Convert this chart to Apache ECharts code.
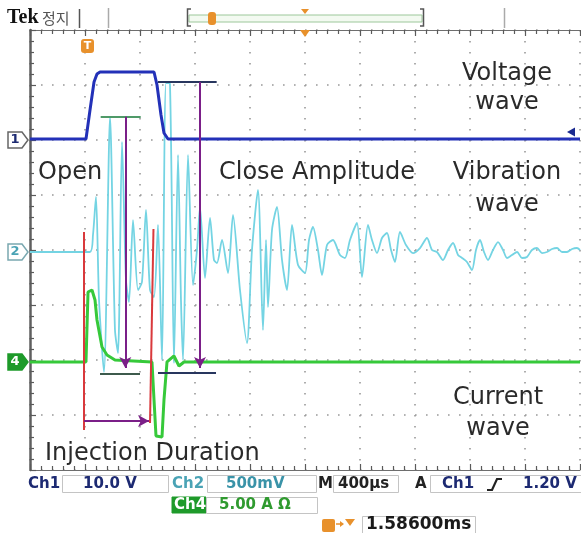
<!DOCTYPE html>
<html>
<head>
<meta charset="utf-8">
<script src="https://cdn.jsdelivr.net/npm/echarts@6/dist/echarts.min.js"></script>
<style>
  html, body { margin: 0; padding: 0; background: #fff; }
  #main { width: 581px; height: 533px; }
</style>
</head>
<body>
<div id="main"></div>
<script>
// scope screen: x in divisions (400us/div), y in divisions from screen centre
// Ch1 voltage wave
const ch1Time  = [0, 1.018, 1.091, 1.164, 1.218, 1.273, 2.255, 2.309, 2.382, 2.436, 2.509, 10];
const ch1Level = [2.018, 2.018, 2.545, 3.055, 3.2, 3.236, 3.236, 3.0, 2.455, 2.127, 2.018, 2.018];

// Ch2 vibration wave
const ch2Time = [0, 1.09, 1.145, 1.2, 1.255, 1.345, 1.455, 1.545, 1.6, 1.673, 1.745, 1.8, 1.873, 1.964,
  2.036, 2.109, 2.182, 2.255, 2.327, 2.4, 2.473, 2.545, 2.618, 2.691, 2.745, 2.782, 2.873, 2.964,
  3.036, 3.091, 3.182, 3.273, 3.345, 3.4, 3.491, 3.6, 3.691, 3.818, 3.945, 4.036, 4.145, 4.236,
  4.291, 4.327, 4.4, 4.491, 4.582, 4.673, 4.764, 4.873, 5.0, 5.073, 5.145, 5.236, 5.309, 5.4,
  5.509, 5.636, 5.727, 5.818, 5.945, 6.036, 6.145, 6.218, 6.309, 6.4, 6.491, 6.564, 6.636, 6.727,
  6.836, 6.964, 7.091, 7.218, 7.309, 7.4, 7.509, 7.6, 7.691, 7.782, 7.855, 7.945, 8.036, 8.109,
  8.182, 8.255, 8.327, 8.418, 8.509, 8.6, 8.673, 8.764, 8.855, 8.945, 9.036, 9.127, 9.218, 9.309,
  9.4, 9.491, 9.582, 9.673, 9.764, 9.855, 9.945, 10];
const ch2Level = [-0.036, -0.036, 0.273, 0.964, -0.909, -2.218, 2.418, -1.455, -1.873, 1.964, -0.545, -0.945, 0.545, -0.727,
  -0.582, 0.727, -0.727, -0.855, 0.455, -2.0, 3.036, 3.018, -2.055, 1.727, -0.909, -2.0, 1.727, -0.636,
  0, 0.782, -0.509, 0.582, -0.182, -0.236, 0.182, -0.418, 0.636, -0.727, -1.691, 0, 1.091, -1.455,
  0.182, -1.036, 0.364, 0.782, -0.182, -0.727, 0.455, -0.273, -0.418, 0.182, 0.418, 0, -0.455, 0.091,
  0.182, -0.091, -0.145, 0.182, 0.491, -0.491, 0.455, 0.182, -0.055, 0.218, 0.309, 0, -0.218, 0.327,
  0.091, -0.055, 0.036, 0.218, 0, -0.036, -0.182, 0, 0.127, -0.091, -0.145, -0.218, -0.364, 0,
  0.182, -0.036, -0.182, 0, 0.145, 0, -0.145, -0.091, -0.036, -0.145, -0.127, 0, 0.036, -0.055,
  -0.036, 0.018, 0.036, -0.036, -0.036, 0.018, 0.036, 0];

// Ch4 current wave
const ch4Time  = [0, 1.018, 1.055, 1.127, 1.182, 1.218, 1.309, 1.4, 1.545, 2.218, 2.255, 2.291, 2.4, 2.436, 2.491, 2.618, 2.709, 2.8, 10];
const ch4Level = [-2.036, -2.036, -0.764, -0.727, -0.909, -1.273, -1.764, -1.909, -2.0, -2.036, -2.727, -3.382, -3.4, -2.727, -2.036, -1.927, -2.109, -2.036, -2.036];

// hand-drawn annotations [x1, y1, x2, y2]
const injectionStart = [0.982, 0.327, 0.982, -3.273];
const injectionEnd   = [2.245, 0.382, 2.182, -3.145];
const injectionArrow = [0.982, -3.109, 2.164, -3.109];
const openAmpTop     = [1.285, 2.424, 2.013, 2.424];
const openAmpBottom  = [1.273, -2.242, 2.0, -2.242];
const openAmpArrow   = [1.733, 2.424, 1.733, -2.145];
const closeAmpTop    = [2.327, 3.055, 3.394, 3.055];
const closeAmpBottom = [2.327, -2.236, 3.382, -2.236];
const closeAmpArrow  = [3.091, 3.055, 3.091, -2.145];

const chart = echarts.init(document.getElementById('main'));

const pairs = (xs, ys) => xs.map((x, i) => [x, ys[i]]);

function seg(s, color, width, arrow) {
  return [
    { coord: [s[0], s[1]], symbol: 'none', lineStyle: { color: color, width: width, type: 'solid' } },
    { coord: [s[2], s[3]], symbol: arrow ? 'arrow' : 'none' }
  ];
}

const dotted = { color: '#999', width: 1.6, type: [1.6, 9.4] };
const frame = { color: '#6e6e6e', width: 1 };
const tickStyle = { color: '#5a5a5a', width: 1.2 };
const hiddenLabel = { show: true, color: 'rgba(0,0,0,0)', fontSize: 1 };

const txt = (x, y, text, font, fill, align) => ({
  type: 'text', x: x, y: y, z: 100, silent: true,
  style: { text: text, font: font, fill: fill, textAlign: align || 'left', align: align || 'left',
           textVerticalAlign: 'middle', verticalAlign: 'middle' }
});
const box = (x, y, w, h, fill, stroke) => ({
  type: 'rect', z: 90, silent: true, shape: { x: x, y: y, width: w, height: h },
  style: { fill: fill || '#fff', stroke: stroke || '#c4c4c4', lineWidth: 1 }
});
const poly = (pts, fill, stroke) => ({
  type: 'polygon', z: 95, silent: true, shape: { points: pts },
  style: { fill: fill, stroke: stroke || null, lineWidth: 1.5 }
});
const ln = (x1, y1, x2, y2, color, w) => ({
  type: 'line', z: 95, silent: true, shape: { x1: x1, y1: y1, x2: x2, y2: y2 },
  style: { stroke: color, lineWidth: w || 1 }
});

const note = '24px "DejaVu Sans"';
const ink = '#2a2a2a';
const stat = 'bold 15px "DejaVu Sans"';
const navy = '#1d2a72';
const orange = '#e8912c';

const ui = [
  // top bar
  txt(7, 18, 'Tek', 'bold 20px "Liberation Serif"', '#111'),
  txt(42, 18, '정지', '15px "Noto Sans CJK KR"', '#555'),
  ln(79.5, 9, 79.5, 28, '#555', 1.5),
  ln(108.5, 8, 108.5, 28, '#aaa', 1.5),
  ln(504.5, 8, 504.5, 28, '#aaa', 1.5),
  box(189, 15, 233, 7, '#f3faf1', '#9cc79a'),
  { type: 'polyline', z: 95, silent: true, shape: { points: [[191, 9], [187.5, 9], [187.5, 26], [191, 26]] }, style: { stroke: '#555', lineWidth: 1.5, fill: null } },
  { type: 'polyline', z: 95, silent: true, shape: { points: [[420, 9], [423.5, 9], [423.5, 26], [420, 26]] }, style: { stroke: '#555', lineWidth: 1.5, fill: null } },
  { type: 'rect', z: 96, silent: true, shape: { x: 208, y: 12, width: 8, height: 13, r: 3 }, style: { fill: orange } },
  ln(212, 14, 212, 23, '#f9d49a', 1.5),
  poly([[301, 9], [309, 9], [305, 14]], orange),
  poly([[300, 30], [310, 30], [305, 37]], orange),
  // trigger marker
  { type: 'rect', z: 96, silent: true, shape: { x: 81, y: 39, width: 13, height: 14, r: 3 }, style: { fill: orange } },
  txt(87.5, 46.5, 'T', 'bold 11px "DejaVu Sans"', '#fff', 'center'),
  // channel markers
  poly([[8, 132], [22, 132], [28, 140], [22, 148], [8, 148]], '#fff', '#666'),
  txt(15, 140, '1', 'bold 13px "DejaVu Sans"', navy, 'center'),
  poly([[8, 244], [22, 244], [28, 252], [22, 260], [8, 260]], '#fff', '#7aa8b0'),
  txt(15, 252, '2', 'bold 13px "DejaVu Sans"', '#4aa3b5', 'center'),
  poly([[8, 354], [22, 354], [28, 362], [22, 370], [8, 370]], '#1e9a2a', '#1e9a2a'),
  txt(15, 362, '4', 'bold 13px "DejaVu Sans"', '#fff', 'center'),
  poly([[567, 132], [575, 127.5], [575, 136.5]], '#1a2a90'),
  // status bar row 1
  txt(28, 484, 'Ch1', stat, navy),
  box(62.5, 475.5, 106, 17),
  txt(83, 484, '10.0 V', stat, navy),
  txt(172, 484, 'Ch2', stat, '#4aa3b5'),
  box(207.5, 475.5, 109, 17),
  txt(226, 484, '500mV', stat, '#3a93a8'),
  txt(318, 484, 'M', stat, '#222'),
  box(333.5, 475.5, 65, 17),
  txt(338, 484, '400µs', stat, '#222'),
  txt(415, 484, 'A', stat, '#222'),
  box(430.5, 475.5, 152, 17),
  txt(442, 484, 'Ch1', stat, navy),
  { type: 'polyline', z: 96, silent: true, shape: { points: [[487, 490], [492, 490], [497, 479], [502, 479]] }, style: { stroke: '#222', lineWidth: 2.2, fill: null } },
  txt(523, 484, '1.20 V', stat, navy),
  // row 2
  box(172, 497, 34, 16, '#1e9a2a', '#1e9a2a'),
  txt(174, 505, 'Ch4', stat, '#fff'),
  box(206.5, 497.5, 111, 16),
  txt(219, 505, '5.00 A Ω', stat, '#2f9a2f'),
  // row 3
  { type: 'rect', z: 96, silent: true, shape: { x: 322, y: 519, width: 13, height: 13, r: 2 }, style: { fill: orange } },
  ln(325, 521, 332, 521, '#fbd9a8', 1.5),
  ln(328.5, 521, 328.5, 530, '#fbd9a8', 1.5),
  ln(336, 524, 343, 524, orange, 1.5),
  poly([[340, 521], [344, 524], [340, 527]], orange),
  poly([[345, 519], [355, 519], [350, 526]], orange),
  box(362.5, 516.5, 113, 18),
  txt(366, 525, '1.58600ms', 'bold 17px "DejaVu Sans"', '#1a1a1a'),
  // annotation texts
  txt(507, 74, 'Voltage', note, ink, 'center'),
  txt(507, 103, 'wave', note, ink, 'center'),
  txt(38, 173, 'Open', note, ink),
  txt(219, 173, 'Close Amplitude', note, ink),
  txt(507, 173, 'Vibration', note, ink, 'center'),
  txt(507, 205, 'wave', note, ink, 'center'),
  txt(498, 398, 'Current', note, ink, 'center'),
  txt(498, 429, 'wave', note, ink, 'center'),
  txt(45, 454, 'Injection Duration', note, ink)
];

// frame rulers: major ticks every division, minor ticks every 0.2 division
const rulerX = (pos) => ({
  type: 'value', min: 0, max: 10, interval: 1, position: pos,
  axisLabel: hiddenLabel,
  axisLine: { show: true, onZero: false, lineStyle: frame },
  axisTick: { show: true, inside: true, length: 6, lineStyle: tickStyle },
  minorTick: { show: true, splitNumber: 5, length: 4, lineStyle: tickStyle },
  splitLine: { show: false }
});

const xMain = rulerX('bottom');
xMain.splitLine = { show: true, lineStyle: dotted };

chart.setOption({
  animation: false,
  backgroundColor: '#fff',
  grid: { left: 30, right: 1, top: 30, bottom: 63, containLabel: false, outerBoundsMode: 'none' },
  xAxis: [xMain, rulerX('top')],
  yAxis: {
    type: 'value', min: -4, max: 4, interval: 1, position: 'left',
    axisLabel: hiddenLabel,
    axisLine: { show: true, onZero: false, lineStyle: { color: '#5f5f5f', width: 2.5 } },
    axisTick: { show: true, inside: true, length: 6, lineStyle: tickStyle },
    minorTick: { show: true, splitNumber: 5, length: 4, lineStyle: tickStyle },
    splitLine: { show: true, lineStyle: dotted }
  },
  series: [
    {
      name: 'Ch2', type: 'line', data: pairs(ch2Time, ch2Level), showSymbol: false, smooth: 0.25,
      lineStyle: { color: '#74d4e3', width: 1.8 }, z: 2, silent: true
    },
    {
      name: 'Ch1', type: 'line', data: pairs(ch1Time, ch1Level), showSymbol: false,
      lineStyle: { color: '#2331b8', width: 3 }, z: 3, silent: true
    },
    {
      name: 'Ch4', type: 'line', data: pairs(ch4Time, ch4Level), showSymbol: false,
      lineStyle: { color: '#36c93a', width: 3 }, z: 4, silent: true,
      markLine: {
        silent: true, animation: false, symbolSize: [9, 11],
        label: { show: false }, emphasis: { disabled: true },
        data: [
          seg(injectionStart, '#d9393c', 2),
          seg(injectionEnd, '#d9393c', 2),
          seg(injectionArrow, '#7b1f88', 2, true),
          seg(openAmpTop, '#4f9a68', 2),
          seg(openAmpBottom, '#3d5a4c', 2),
          seg(openAmpArrow, '#7b1f88', 2, true),
          seg(closeAmpTop, '#28365e', 2),
          seg(closeAmpBottom, '#28365e', 2),
          seg(closeAmpArrow, '#7b1f88', 2, true)
        ]
      }
    }
  ],
  graphic: ui
});
</script>
</body>
</html>
